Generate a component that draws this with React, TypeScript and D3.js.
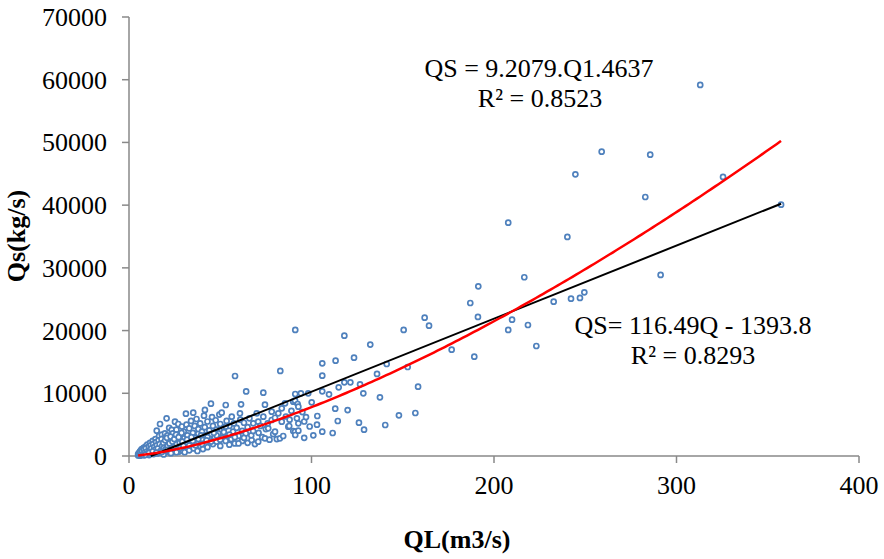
import React from "react";
import * as d3 from "d3";

// Observations [QL (m3/s), Qs (kg/s)]
const lowFlowPoints: [number, number][] = [
  [5, 80], [5, 300], [5.5, 150], [5.5, 500], [6, 50], [6, 700], [6.5, 250], [6.5, 900],
  [7, 120], [7, 450], [7, 1100], [7.5, 650], [8, 300], [8, 1300], [8.5, 100], [8.5, 850],
  [9, 550], [9, 1500], [9.5, 300], [10, 1000], [10, 1800], [10.5, 650], [11, 150], [11, 1300],
  [11.5, 2100], [12, 800], [12, 450], [12.5, 1600], [13, 1100], [13, 2400], [13.5, 300], [14, 1800],
  [14, 700], [14.5, 2700], [15, 1300], [15.2, 4040], [15.5, 400], [16, 2100], [16, 900], [16.5, 3200],
  [17, 1500], [17, 5100], [17.5, 600], [18, 2400], [18, 3400], [18.5, 1100], [19, 2800], [19, 250],
  [19.7, 3620], [20, 1800], [20.6, 6010], [20.5, 800], [21, 3300], [21.5, 2200], [22, 1300], [22, 4500],
  [22.5, 500], [23, 2700], [23.4, 4150], [23.5, 1600], [24, 3600], [24.5, 900], [25, 2100], [25.2, 5470],
  [25.5, 3000], [26, 1200], [26, 4200], [27, 5100], [27, 2500], [27.5, 700], [28, 3400], [28.5, 1800],
  [29, 4700], [29, 1000], [30, 2800], [30, 3900], [30.5, 600], [31.2, 6750], [31, 2100], [31.5, 5000],
  [32, 1400], [32, 3300], [33, 4400], [33, 900], [33.5, 2600], [34, 5600], [34, 1800], [35.2, 6910],
  [35, 3700], [35.5, 1200], [36, 2900], [36, 4800], [37, 2200], [37, 5900], [37.5, 800], [38, 3600],
  [38, 4300], [39, 1600], [39, 5200], [40, 2700], [40, 3900], [40.5, 1100], [41.6, 7340], [41.1, 6430],
  [41.5, 4600], [42, 2000], [42, 3300], [43, 5500], [43, 1400], [44, 4100], [44, 2800], [44.9, 8340],
  [45, 3500], [45.5, 6200], [46, 1900], [46, 4800], [47, 3000], [47.5, 5700], [48, 2300], [48, 4200],
  [49, 3600], [49.5, 6600], [50, 1600], [50, 5100], [50.8, 6910], [51, 2900], [52, 4400], [52, 3800],
  [53, 8130], [53, 2400], [53.5, 5600], [54, 3300], [55, 4800], [55, 1800], [56.3, 6270], [56, 2700],
  [57, 3900], [57.5, 5200], [58.1, 12760], [58, 2000], [59, 4500], [60, 3200], [60.8, 6810], [61, 5800],
  [61.4, 8240], [62, 2400], [62, 4000], [63, 5300], [64.2, 10300], [64, 3600], [65, 2100], [65, 4600],
  [30, 1500], [35, 2400], [40, 1900], [45, 2300], [50, 2600], [55, 3400], [60, 2000], [24, 1400],
  [28, 2600], [33, 1700], [38, 2700], [43, 3000], [48, 3300], [53, 4700], [58, 3000], [63, 2900],
];

const denseCorePoints: [number, number][] = [
  [5.2, 200], [5.8, 400], [6.2, 600], [6.8, 350], [7.2, 800], [7.8, 200], [8.2, 1000], [8.8, 600],
  [9.2, 1200], [9.8, 700], [10.2, 400], [10.8, 1500], [11.2, 900], [11.8, 1700], [12.2, 1200], [12.8, 600],
  [13.2, 1900], [13.8, 1400], [14.2, 1000], [14.8, 2200], [15.2, 1700], [15.8, 1200], [16.2, 2500], [16.8, 1900],
  [17.2, 800], [17.8, 2700], [18.2, 1600], [18.8, 2100], [19.2, 1300], [19.8, 2500], [20.2, 1100], [20.8, 2900],
  [21.2, 1600], [21.8, 700], [22.2, 2000], [22.8, 3100], [23.2, 1200], [23.8, 2300], [24.2, 800], [24.8, 2700],
  [25.2, 1500], [25.8, 3400], [26.2, 1900], [26.8, 1000], [27.2, 3000], [27.8, 2100], [28.2, 1300], [28.8, 3700],
  [29.2, 2300], [29.8, 1600], [31.8, 2600], [34.2, 3000], [36.5, 1700], [39.5, 3300], [42.5, 2500], [46.5, 3700],
  [9, 200], [11, 500], [13, 750], [15, 550], [18, 650], [21, 1000], [23, 450], [26, 600],
];

const midFlowPoints: [number, number][] = [
  [66, 6000], [67.2, 2550], [67, 3300], [68.1, 5210], [68, 4000], [69, 1900], [70, 6810], [70.8, 5470],
  [70.8, 2280], [71, 3700], [72, 4800], [73, 3000], [73.6, 10100], [73.6, 6270], [74.5, 8180], [74.5, 2820],
  [75, 4300], [76, 5200], [76.3, 4420], [77, 2600], [78.2, 5740], [78.2, 7070], [79, 3500], [80, 3880],
  [80, 6100], [81, 2700], [81.8, 6810], [82.9, 13560], [83.7, 7600], [82.7, 2820], [83.7, 5470], [84.5, 3190],
  [85.5, 8400], [86, 6300], [87.3, 4670], [87.8, 4780], [88, 5800], [89, 7200], [90, 3990], [90, 8660],
  [91, 8820], [91, 3880], [91.1, 20100], [91.1, 9890], [91.1, 3350], [92, 6000], [92.4, 8290], [92.8, 7860],
  [92.8, 5210], [92.8, 4040], [94.2, 10000], [95, 7000], [96, 5500], [98.2, 10000], [100.1, 8560], [96, 2900],
  [99, 4700], [101, 3300], [97, 6200], [103, 5000], [103.2, 6380], [105.9, 14780], [105.9, 12810], [105.9, 10320],
  [105.9, 3880], [109.6, 9840], [111.6, 3670], [113.2, 15200], [113, 7540], [114.4, 5580], [114.9, 10950], [118, 19190],
  [118, 11750], [119.8, 7330], [121.3, 11750], [123.3, 15680], [126, 5310], [126.6, 11430], [128.4, 10000], [128.8, 4200],
  [132.2, 17760], [135.9, 13080], [137.5, 9360], [140.4, 4940], [141.2, 14670], [147.9, 6490], [150.5, 20100], [152.7, 14190],
  [156.9, 6860], [158.4, 11060], [162, 22060], [164.4, 20780], [176.8, 16960], [187, 24400], [189.2, 15840], [191.2, 22170],
  [191.4, 27060],
];

const highFlowPoints: [number, number][] = [
  [207.8, 37210], [216.6, 28500], [207.8, 20100], [209.9, 21740], [218.6, 20890], [223.2, 17540], [232.7, 24610],
  [240.2, 34930], [242.2, 25090], [247.1, 25200], [249.5, 26100], [244.6, 44920], [259, 48530], [285.6, 48050],
  [282.9, 41300], [291.3, 28870], [313, 59170], [325.5, 44500], [357.3, 40080],
];

const xTicks = [0, 100, 200, 300, 400];
const yTicks = [0, 10000, 20000, 30000, 40000, 50000, 60000, 70000];

// Trendline fits shown on the chart
const powerCoef = 9.2079;
const powerExp = 1.4637;
const linSlope = 116.49;
const linIntercept = -1393.8;

const powerLabel = ["QS = 9.2079.Q1.4637", "R² = 0.8523"];
const linearLabel = ["QS= 116.49Q - 1393.8", "R² = 0.8293"];

const W = 884;
const H = 559;
const FONT = "'Liberation Serif', 'Times New Roman', serif";

export default function App() {
  const points = [...lowFlowPoints, ...denseCorePoints, ...midFlowPoints, ...highFlowPoints];
  const x = d3.scaleLinear().domain([0, 400]).range([129, 859]);
  const y = d3.scaleLinear().domain([0, 70000]).range([456, 17]);

  const qMin = d3.min(points, (p) => p[0]) as number;
  const qMax = d3.max(points, (p) => p[0]) as number;

  const line = d3
    .line<[number, number]>()
    .x((d) => x(d[0]))
    .y((d) => y(d[1]));

  const powerPts: [number, number][] = d3
    .range(qMin, qMax, 2)
    .concat([qMax])
    .map((q) => [q, powerCoef * Math.pow(q, powerExp)]);

  const linStart = Math.max(qMin, -linIntercept / linSlope);
  const linPts: [number, number][] = [linStart, qMax].map((q) => [q, linSlope * q + linIntercept]);

  const axisColor = "#898989";

  return (
    <svg
      width={W}
      height={H}
      style={{ position: "absolute", left: 0, top: 0, background: "#fff" }}
      fontFamily={FONT}
    >
      {/* axes */}
      <line x1={x(0)} x2={x(0)} y1={y(70000)} y2={y(0)} stroke={axisColor} strokeWidth={1.5} />
      <line x1={x(0)} x2={x(400)} y1={y(0)} y2={y(0)} stroke={axisColor} strokeWidth={1.5} />
      {yTicks.map((t) => (
        <g key={"y" + t}>
          <line x1={x(0) - 7} x2={x(0)} y1={y(t)} y2={y(t)} stroke={axisColor} strokeWidth={1.5} />
          <text x={107} y={y(t) + 9} textAnchor="end" fontSize={26} fill="#000">
            {t}
          </text>
        </g>
      ))}
      {xTicks.map((t) => (
        <g key={"x" + t}>
          <line x1={x(t)} x2={x(t)} y1={y(0)} y2={y(0) + 7} stroke={axisColor} strokeWidth={1.5} />
          <text x={x(t)} y={494} textAnchor="middle" fontSize={26} fill="#000">
            {t}
          </text>
        </g>
      ))}

      {/* points */}
      {points.map((p, i) => (
        <circle
          key={i}
          cx={x(p[0])}
          cy={y(p[1])}
          r={2.5}
          fill="#fff"
          stroke="#4f81bd"
          strokeWidth={1.7}
        />
      ))}

      {/* trendlines */}
      <path d={line(linPts) || ""} fill="none" stroke="#000" strokeWidth={2} />
      <path d={line(powerPts) || ""} fill="none" stroke="#ff0000" strokeWidth={2.5} />

      {/* labels */}
      <text x={539} y={77} textAnchor="middle" fontSize={26}>{powerLabel[0]}</text>
      <text x={540} y={107} textAnchor="middle" fontSize={26}>{powerLabel[1]}</text>
      <text x={693} y={334} textAnchor="middle" fontSize={26}>{linearLabel[0]}</text>
      <text x={693} y={364} textAnchor="middle" fontSize={26}>{linearLabel[1]}</text>

      {/* axis titles */}
      <text x={457} y={548} textAnchor="middle" fontSize={26} fontWeight="bold">
        QL(m3/s)
      </text>
      <text
        transform={`translate(25,236) rotate(-90)`}
        textAnchor="middle"
        fontSize={26}
        fontWeight="bold"
      >
        Qs(kg/s)
      </text>
    </svg>
  );
}
